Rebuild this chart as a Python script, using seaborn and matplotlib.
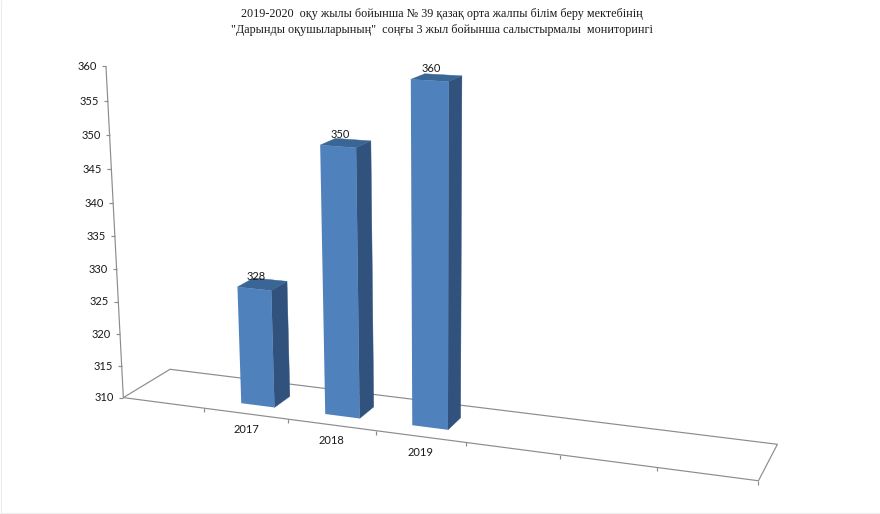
import numpy as np
import pandas as pd
import matplotlib
matplotlib.use("Agg")
import matplotlib.pyplot as plt
import seaborn as sns
from matplotlib.patches import Polygon, Rectangle
from matplotlib.transforms import Transform, IdentityTransform

# values
years = ["2017", "2018", "2019"]
scores = [328, 350, 360]
# the chart has 7 category slots, only three of them are filled
slots = ["", "2017", "2018", "2019", " ", "  ", "   "]
y_ticks = [310, 315, 320, 325, 330, 335, 340, 345, 350, 355, 360]
title = ("2019-2020  оқу жылы бойынша № 39 қазақ орта жалпы білім беру мектебінің\n"
         "\"Дарынды оқушыларының\"  соңғы 3 жыл бойынша салыстырмалы  мониторингі")

W, H = 880, 514
Y_MIN, Y_MAX = 310, 360
BAR_WIDTH = 0.40
DEPTH_FRONT, DEPTH_BACK = 0.27, 0.64
FRONT, SIDE, TOP = "#4f81bd", "#30527c", "#3a6696"
AXIS = "#8c8c8c"
TEXT = "#1a1a1a"

# camera fit: (slot edge, depth, value) -> pixel, taken from the picture's frame and corners
camera_anchors = [
    (0, 0, 310, 124, 398), (1, 0, 310, 204, 408), (2, 0, 310, 288, 419),
    (3, 0, 310, 375, 431), (4, 0, 310, 465, 443), (5, 0, 310, 559, 455),
    (6, 0, 310, 657, 468), (7, 0, 310, 759, 481),
    (0, 1, 310, 169, 370), (7, 1, 310, 777, 445),
    (0, 0, 360, 105, 67), (0, 0, 345, 111, 170), (0, 0, 335, 115, 236), (0, 0, 320, 120, 334),
    (1.7, 0.27, 328, 273, 290), (1.7, 0.64, 328, 288, 281),
    (2.3, 0.27, 350, 321, 145), (2.7, 0.27, 350, 357, 148), (2.7, 0.64, 350, 371, 141),
    (3.3, 0.27, 360, 411, 79), (3.7, 0.27, 360, 448, 81), (3.7, 0.64, 360, 461, 76),
    (3.7, 0.27, 310, 449, 428), (3.7, 0.64, 310, 461, 417),
]


def fit_camera(anchors):
    rows, rhs = [], []
    for u, d, v, px, py in anchors:
        z = (v - Y_MIN) / (Y_MAX - Y_MIN)
        rows.append([u, d, z, 1, 0, 0, 0, 0, -px * u, -px * d, -px * z])
        rows.append([0, 0, 0, 0, u, d, z, 1, -py * u, -py * d, -py * z])
        rhs += [px, py]
    sol = np.linalg.lstsq(np.array(rows, float), np.array(rhs, float), rcond=None)[0]
    return np.append(sol, 1).reshape(3, 4)


CAM = fit_camera(camera_anchors)


def project(u, d, v):
    # returns display pixels (origin bottom left)
    u, d, v = np.broadcast_arrays(np.asarray(u, float), np.asarray(d, float), np.asarray(v, float))
    z = (v - Y_MIN) / (Y_MAX - Y_MIN)
    pts = CAM @ np.stack([u, d, z, np.ones_like(u)])
    return np.stack([pts[0] / pts[2], H - pts[1] / pts[2]], axis=-1)


class FrontFace(Transform):
    # seaborn's data coordinates -> perspective pixels at a fixed depth
    input_dims = output_dims = 2

    def transform_non_affine(self, values):
        values = np.asarray(values, float)
        return project(values[:, 0] + 0.5, DEPTH_FRONT, values[:, 1])


df = pd.DataFrame({"year": years, "score": scores})

sns.set_theme(style="white")
plt.rcParams["font.family"] = ["Lato", "DejaVu Sans"]

fig = plt.figure(figsize=(W / 100, H / 100), dpi=100)
ax = fig.add_axes([0, 0, 1, 1])
sns.barplot(data=df, x="year", y="score", order=slots, color=FRONT, saturation=1,
            width=BAR_WIDTH, ax=ax)
ax.set_axis_off()
pix = IdentityTransform()


def line(points, color=AXIS, lw=0.85, z=1):
    points = np.asarray(points)
    ax.plot(points[:, 0], points[:, 1], color=color, lw=lw, transform=pix, clip_on=False,
            zorder=z, solid_capstyle="butt")


# floor and value axis
line(project([0, 7, 7, 0, 0], [0, 0, 1, 1, 0], Y_MIN))
line(project([0, 0], [0, 0], [Y_MIN, Y_MAX]))

for tick in y_ticks:
    x0, y0 = project(0, 0, tick)
    line([(x0 - 4, y0), (x0, y0)])
    ax.text(x0 - 9, y0, str(tick), transform=pix, ha="right", va="center",
            fontsize=8, color=TEXT)

for edge in range(1, 8):
    x0, y0 = project(edge, 0, Y_MIN)
    line([(x0, y0), (x0, y0 - 4)])

for i, name in enumerate(slots):
    if name.strip():
        x0, y0 = project(i + 0.5, 0, Y_MIN)
        ax.text(x0, y0 - 16, name, transform=pix, ha="center", va="center",
                fontsize=8, color=TEXT)

# 3d faces are built from the bars seaborn made
front = FrontFace()
for bar in [p for p in ax.patches if isinstance(p, Rectangle) and p.get_height() > 0]:
    left = bar.get_x() + 0.5
    right = left + bar.get_width()
    value = bar.get_height()

    side = project([right, right, right, right],
                   [DEPTH_FRONT, DEPTH_BACK, DEPTH_BACK, DEPTH_FRONT],
                   [Y_MIN, Y_MIN, value, value])
    cap = project([left, right, right, left],
                  [DEPTH_FRONT, DEPTH_FRONT, DEPTH_BACK, DEPTH_BACK], value)
    ax.add_patch(Polygon(side, closed=True, facecolor=SIDE, edgecolor=SIDE, lw=0.3,
                         transform=pix, clip_on=False, zorder=3))
    ax.add_patch(Polygon(cap, closed=True, facecolor=TOP, edgecolor=TOP, lw=0.3,
                         transform=pix, clip_on=False, zorder=3))

    bar.set_y(Y_MIN)
    bar.set_height(value - Y_MIN)
    bar.set_transform(front)
    bar.set_clip_on(False)
    bar.set_linewidth(0)
    bar.set_zorder(4)

    x0, y0 = project((left + right) / 2, DEPTH_FRONT, value)
    ax.text(x0 + 2, y0 + 12, str(int(value)), transform=pix, ha="center", va="center",
            fontsize=8, color=TEXT, zorder=5)

fig.text(442 / W, 1 - 22 / H, title, ha="center", va="center", fontsize=8.75, linespacing=1.45,
         color=TEXT, family=["Liberation Serif", "DejaVu Serif"])

# faint picture border left and bottom
line([(0.5, 0), (0.5, H)], color="#ececec")
line([(0, 1.5), (W, 1.5)], color="#ececec")

fig.savefig("out.png", dpi=100)
plt.close(fig)
